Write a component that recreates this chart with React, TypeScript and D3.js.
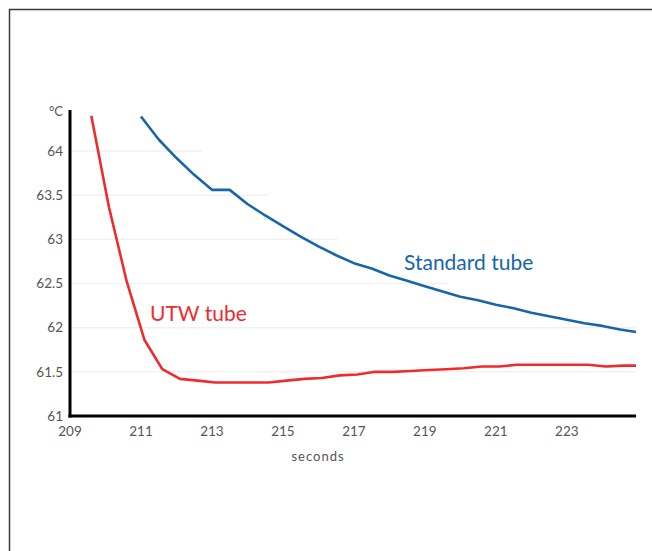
import React from "react";
import * as d3 from "d3";

const standardSeconds = [211, 211.5, 212, 212.5, 213, 213.5, 214, 214.5, 215, 215.5, 216, 216.5, 217, 217.5, 218, 218.5, 219, 219.5, 220, 220.5, 221, 221.5, 222, 222.5, 223, 223.5, 224, 224.5, 224.95];
const standardTemps = [64.39, 64.13, 63.92, 63.73, 63.56, 63.56, 63.4, 63.27, 63.15, 63.03, 62.92, 62.82, 62.73, 62.67, 62.59, 62.53, 62.47, 62.41, 62.35, 62.31, 62.26, 62.22, 62.17, 62.13, 62.09, 62.05, 62.02, 61.98, 61.95];

const utwSeconds = [209.6, 210.1, 210.6, 211.1, 211.6, 212.1, 212.6, 213.1, 213.6, 214.1, 214.6, 215.1, 215.6, 216.1, 216.6, 217.1, 217.6, 218.1, 218.6, 219.1, 219.6, 220.1, 220.6, 221.1, 221.6, 222.1, 222.6, 223.1, 223.6, 224.1, 224.6, 224.95];
const utwTemps = [64.4, 63.36, 62.52, 61.86, 61.53, 61.42, 61.4, 61.38, 61.38, 61.38, 61.38, 61.4, 61.42, 61.43, 61.46, 61.47, 61.5, 61.5, 61.51, 61.52, 61.53, 61.54, 61.56, 61.56, 61.58, 61.58, 61.58, 61.58, 61.58, 61.56, 61.57, 61.57];

const xTicks = [209, 211, 213, 215, 217, 219, 221, 223];
const yTicks = [61, 61.5, 62, 62.5, 63, 63.5, 64];
const yUnit = "°C";
const xTitle = "seconds";
const seriesLabels = ["Standard tube", "UTW tube"];

const FONT = "Lato, 'Open Sans', sans-serif";
const BLUE = "#1666a9";
const RED = "#ee2b2e";

export default function App() {
  const x = d3.scaleLinear().domain([209, 224.95]).range([70, 636]);
  const y = d3.scaleLinear().domain([61, 64]).range([416, 151]);

  const line = d3
    .line<[number, number]>()
    .x((d) => x(d[0]))
    .y((d) => y(d[1]));

  const std: [number, number][] = standardSeconds.map((s, i) => [s, standardTemps[i]]);
  const utw: [number, number][] = utwSeconds.map((s, i) => [s, utwTemps[i]]);

  // gridline extent: a little past where the standard curve crosses the value
  const crossing = (v: number) => {
    for (let i = 0; i < std.length - 1; i++) {
      const a = std[i], b = std[i + 1];
      if ((a[1] >= v && b[1] <= v) && a[1] !== b[1]) {
        return a[0] + ((a[1] - v) / (a[1] - b[1])) * (b[0] - a[0]);
      }
    }
    return 230;
  };

  return (
    <svg
      width={652}
      height={551}
      style={{ position: "fixed", left: 0, top: 0, background: "#fff" }}
    >
      <line x1={9} y1={9.5} x2={652} y2={9.5} stroke="#3a3a3a" strokeWidth={1.5} />
      <line x1={9.5} y1={9} x2={9.5} y2={551} stroke="#3a3a3a" strokeWidth={1.5} />

      {yTicks.slice(1).map((t) => (
        <line
          key={"g" + t}
          x1={x(209)}
          x2={Math.min(x(224.95), x(crossing(t) + 0.9))}
          y1={y(t)}
          y2={y(t)}
          stroke="#f1f1f1"
          strokeWidth={1.5}
        />
      ))}

      <path d={line(utw) || ""} fill="none" stroke={RED} strokeWidth={2.6} strokeLinejoin="round" />
      <path d={line(std) || ""} fill="none" stroke={BLUE} strokeWidth={2.6} strokeLinejoin="round" />

      <line x1={x(209)} x2={x(209)} y1={110} y2={417.5} stroke="#000" strokeWidth={3} />
      <line x1={x(209) - 1.5} x2={x(224.95)} y1={y(61)} y2={y(61)} stroke="#000" strokeWidth={3} />

      {yTicks.map((t) => (
        <text
          key={"y" + t}
          x={63}
          y={y(t)}
          dy="0.35em"
          textAnchor="end"
          fontFamily={FONT}
          fontSize={13.5}
          fill="#555"
        >
          {t}
        </text>
      ))}
      <text x={63} y={111} dy="0.35em" textAnchor="end" fontFamily={FONT} fontSize={13} fill="#555">
        {yUnit}
      </text>

      {xTicks.map((t) => (
        <text
          key={"x" + t}
          x={x(t)}
          y={436}
          textAnchor="middle"
          fontFamily={FONT}
          fontSize={13.5}
          fill="#555"
        >
          {t}
        </text>
      ))}
      <text x={318} y={461} textAnchor="middle" fontFamily={FONT} fontSize={13} letterSpacing={1} fill="#555">
        {xTitle}
      </text>

      <text x={404} y={270} fontFamily={FONT} fontSize={21} fill={BLUE}>
        {seriesLabels[0]}
      </text>
      <text x={150} y={321} fontFamily={FONT} fontSize={21} fill={RED}>
        {seriesLabels[1]}
      </text>
    </svg>
  );
}
